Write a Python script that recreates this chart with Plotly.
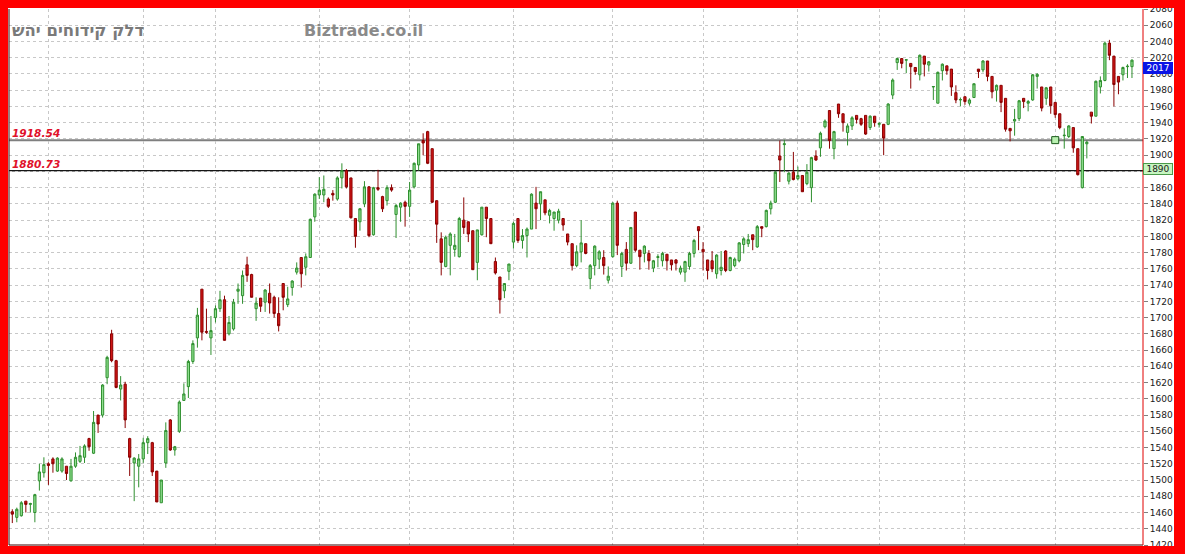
import plotly.graph_objects as go

# ---------------- data ----------------
open_ = [1461, 1454, 1456, 1474, 1470, 1460, 1499, 1509, 1520, 1526,
         1511, 1511, 1517, 1499, 1517, 1523, 1528, 1551, 1533, 1580,
         1580, 1626, 1680, 1647, 1612, 1618, 1551, 1521, 1517, 1526,
         1546, 1546, 1511, 1472, 1521, 1574, 1537, 1560, 1598, 1615,
         1646, 1675, 1735, 1683, 1675, 1700, 1711, 1722, 1680, 1686,
         1732.5, 1727, 1765, 1753, 1711, 1724, 1719, 1730, 1725, 1705,
         1742, 1716, 1737, 1756, 1774, 1762, 1774, 1824, 1851, 1851,
         1846, 1853, 1846, 1872, 1881, 1872, 1822, 1818, 1840, 1861,
         1802, 1860, 1849, 1844, 1860, 1827, 1836, 1842, 1837, 1861,
         1888, 1918, 1929, 1908, 1844, 1797, 1763, 1789, 1784,
         1775, 1820, 1818, 1807, 1768, 1802, 1836, 1822, 1769, 1750,
         1733, 1757, 1793, 1822, 1795, 1801, 1809, 1841, 1840, 1845,
         1826, 1822, 1820, 1822, 1803, 1791, 1764, 1781, 1791, 1748,
         1764, 1772, 1774, 1746, 1775, 1841, 1763, 1784, 1767, 1830,
         1783, 1779, 1779, 1761, 1774, 1770, 1778, 1771, 1771, 1756,
         1756, 1763, 1779, 1812,
         1784, 1771, 1770, 1754, 1758, 1782, 1758, 1764, 1770, 1790,
         1791, 1802, 1787, 1812, 1812, 1834, 1842, 1899, 1913, 1868,
         1879, 1871, 1875, 1865, 1860, 1899, 1909, 1935, 1955, 1908,
         1963, 1951, 1928, 1936, 1949, 1945, 1949, 1934, 1948, 1938,
         1938, 1938,
         1974, 2014,
         2019, 2017, 2013, 2008, 1999, 2022, 2011, 1984, 1964, 2004,
         2010, 2006, 1977, 1968, 1972, 1964, 1971, 2006, 2005, 2016,
         1997, 1980, 1986, 1970, 1933, 1942, 1945, 1970, 1964, 1968,
         1997, 1984, 1970, 1984, 1965, 1951, 1924, 1923, 1934, 1908,
         1860, 1914, 1953, 1948, 1984, 1992, 2038, 2022, 1997, 1999,
         2009, 2009]
high = [1464, 1466, 1474, 1474, 1472, 1483, 1520, 1528, 1522, 1528,
        1528, 1528, 1517, 1526, 1534, 1542, 1544, 1552, 1585, 1580,
        1618, 1653, 1685, 1648, 1628, 1621, 1552, 1528, 1532, 1552,
        1554, 1547, 1511, 1500, 1571, 1575, 1542, 1598, 1619, 1648,
        1672, 1712, 1735, 1711, 1702, 1715, 1733, 1727, 1702, 1723,
        1742, 1758, 1775, 1754, 1725, 1724, 1735, 1742, 1727, 1725,
        1742, 1738, 1746, 1768, 1774, 1779, 1822, 1853, 1873, 1875,
        1848, 1857, 1874, 1890, 1883, 1872, 1822, 1835, 1868, 1862,
        1861, 1882, 1850, 1863, 1864, 1840, 1842, 1844, 1867, 1891,
        1914, 1927, 1930, 1908, 1844, 1805, 1801, 1805, 1803,
        1824, 1848, 1818, 1807, 1808, 1836, 1836, 1822, 1774, 1750,
        1742, 1766, 1818, 1822, 1809, 1811, 1853, 1861, 1855, 1845,
        1834, 1830, 1834, 1822, 1803, 1791, 1789, 1820, 1791, 1766,
        1789, 1783, 1783, 1763, 1842, 1844, 1781, 1793, 1811, 1830,
        1783, 1789, 1783, 1771, 1778, 1781, 1778, 1771, 1772, 1764,
        1770, 1781, 1797, 1812,
        1793, 1771, 1782, 1778, 1782, 1783, 1775, 1774, 1793, 1799,
        1803, 1802, 1814, 1812, 1833, 1844, 1881, 1918, 1919, 1879,
        1904, 1886, 1875, 1889, 1898, 1906, 1929, 1944, 1955, 1930,
        1963, 1951, 1939, 1948, 1949, 1946, 1949, 1949, 1948, 1941,
        1938, 1964,
        1994.5, 2020,
        2019, 2018, 2013, 2008, 2024, 2022, 2016, 1985, 2003, 2013,
        2010, 2006, 1986, 1971, 1972, 1970, 1988, 2006, 2017, 2016,
        1997, 1987, 1986, 1970, 1933, 1957, 1968, 1970, 1968, 2000,
        2001, 1984, 1984, 1984, 1965, 1951, 1933, 1937, 1934, 1908,
        1923, 1918, 1953, 1992, 1997, 2040, 2042, 2022, 1997, 2009,
        2012, 2018]
low = [1447, 1448, 1455, 1460, 1460, 1448, 1487, 1503, 1494, 1509,
       1510, 1509, 1500, 1498, 1515, 1521, 1521, 1536, 1532, 1558,
       1577, 1618, 1645, 1613, 1598, 1564, 1505, 1474, 1491, 1521,
       1532, 1505, 1473, 1472, 1515, 1536, 1530, 1558, 1598, 1601,
       1643, 1663, 1672, 1680, 1654, 1694, 1707, 1672, 1678, 1684,
       1717, 1717, 1744, 1725, 1696, 1707, 1707, 1705, 1700, 1683,
       1709, 1713, 1727, 1753, 1737, 1752, 1774, 1818, 1846, 1842,
       1835, 1844, 1844, 1859, 1859, 1822, 1786, 1807, 1836, 1799,
       1801, 1856, 1830, 1838, 1855, 1798, 1818, 1812, 1824, 1859,
       1881, 1900, 1889, 1841, 1792, 1752, 1762, 1752, 1775,
       1774, 1803, 1793, 1759, 1746, 1801, 1799, 1791, 1753, 1705,
       1724, 1746, 1785, 1792, 1785, 1774, 1809, 1809, 1820, 1826,
       1816, 1807, 1816, 1807, 1789, 1758, 1762, 1768, 1778, 1735,
       1752, 1760, 1753, 1742, 1774, 1777, 1750, 1758, 1766, 1781,
       1759, 1768, 1759, 1756, 1762, 1763, 1758, 1758, 1758, 1753,
       1744, 1759, 1774, 1783,
       1758, 1747, 1756, 1748, 1752, 1756, 1757, 1762, 1768, 1779,
       1787, 1783, 1786, 1799, 1811, 1827, 1841, 1867, 1879, 1864,
       1869, 1869, 1855, 1863, 1842, 1893, 1898, 1933, 1908, 1895,
       1946, 1929, 1912, 1931, 1939, 1936, 1925, 1931, 1935, 1934,
       1900, 1937,
       1969, 2005,
       2007, 2001, 1982, 1999, 1992, 1997, 2003, 1968, 1964, 1992,
       1999, 1973, 1964, 1960, 1962, 1961, 1971, 1995, 2002, 1991,
       1970, 1966, 1953, 1929, 1917, 1924, 1942, 1958, 1954, 1967,
       1982, 1954, 1962, 1951, 1946, 1932, 1908, 1921, 1903, 1875,
       1859, 1896, 1939, 1948, 1976, 1991, 2017, 1960, 1975, 1992,
       1995, 1995]
close = [1458, 1464, 1472, 1470, 1471, 1482, 1510, 1519, 1518, 1520,
         1527, 1526, 1508, 1517, 1528, 1530, 1542, 1541, 1571, 1569,
         1617, 1651, 1647, 1614, 1617, 1574, 1528, 1527, 1526, 1546,
         1551, 1510, 1473, 1500, 1561, 1537, 1541, 1596, 1606, 1646,
         1668, 1703, 1682, 1682, 1684, 1711, 1722, 1672, 1694, 1719,
         1735, 1752, 1752, 1725, 1718, 1714, 1734, 1718, 1705, 1690,
         1725, 1723, 1745, 1761, 1754, 1775, 1821, 1852, 1857, 1858,
         1837, 1851, 1872, 1881, 1861, 1823, 1800, 1834, 1861, 1801,
         1860, 1858, 1834, 1860, 1857, 1838, 1841, 1837, 1857, 1890,
         1914, 1915, 1890, 1842, 1815, 1768, 1799, 1803, 1789,
         1822, 1811, 1803, 1759, 1808, 1836, 1822, 1791, 1755, 1722,
         1742, 1766, 1816, 1795, 1801, 1809, 1852, 1834, 1855, 1829,
         1832, 1830, 1831, 1814, 1793, 1764, 1781, 1792, 1779, 1764,
         1788, 1781, 1764, 1751, 1841, 1789, 1779, 1767, 1811, 1783,
         1775, 1788, 1770, 1770, 1775, 1779, 1770, 1765, 1767, 1761,
         1769, 1779, 1795, 1807,
         1781, 1758, 1760, 1777, 1762, 1758, 1774, 1772, 1792, 1797,
         1796, 1796, 1812, 1810, 1832, 1841, 1879, 1894, 1914, 1878,
         1870, 1875, 1855, 1879, 1897, 1894, 1927, 1942, 1918, 1929,
         1951, 1940, 1936, 1946, 1944, 1938, 1926, 1948, 1940, 1939,
         1921, 1963,
         1992.5, 2019,
         2013, 2017.5, 2009, 2003, 2023, 2012, 2015, 1984.5, 2002, 2012,
         2004, 1984, 1968, 1968.5, 1966, 1968, 1988, 2003, 2016, 1997,
         1978, 1986, 1965, 1932, 1930, 1944, 1967, 1966, 1966, 1999,
         1999.5, 1958, 1983, 1961, 1950, 1934, 1924.5, 1936, 1909, 1876,
         1923, 1916, 1948, 1991, 1992, 2038, 2023, 1987, 1990, 2008,
         2009.5, 2017]

day = list(range(len(close)))
month_starts = [8, 29, 45, 68, 88, 111, 133, 153, 174, 192, 211, 231]
levels = [1918.54, 1880.73]
level_colors = ["#7f7f7f", "#151515"]
level_widths = [2, 1.5]
level_mark_day = 231
last_price = 2017
side_marker_value = 1890
title_text = "דלק קידוחים יהש"
watermark = "Biztrade.co.il"
y_ticks = list(range(1420, 2081, 20))
hidden_tick = 1880          # covered by the side marker box in the original
y_ticktext = ["" if v == hidden_tick else str(v) for v in y_ticks]

# ---------------- geometry ----------------
W, H = 1185, 554
ML, MR, MT, MB = 9, 42, 9, 9
PW, PH = W - ML - MR, H - MT - MB


def px_x(px):
    return (px - ML) / PW


def px_y(py):
    return (H - MB - py) / PH


fig = go.Figure()
fig.add_trace(go.Candlestick(
    x=day, open=open_, high=high, low=low, close=close,
    increasing=dict(line=dict(color="#2f8f2f", width=1), fillcolor="#90e090"),
    decreasing=dict(line=dict(color="#8a0000", width=1), fillcolor="#d01515"),
    whiskerwidth=0, showlegend=False, hoverinfo="skip",
))

# small square marker on the upper level line
fig.add_trace(go.Scatter(
    x=[level_mark_day], y=[levels[0]], mode="markers",
    marker=dict(symbol="square", size=7, color="#b8f0b0",
                line=dict(color="#1a5a1a", width=1)),
    showlegend=False, hoverinfo="skip",
))

shapes = []
for lv, col, lw in zip(levels, level_colors, level_widths):
    shapes.append(dict(type="line", xref="paper", yref="y", x0=0, x1=1,
                       y0=lv, y1=lv, line=dict(color=col, width=lw),
                       layer="between"))
shapes.append(dict(type="line", xref="paper", yref="paper", x0=0, x1=0,
                   y0=0, y1=1, line=dict(color="#3a0000", width=1), layer="above"))
shapes.append(dict(type="line", xref="paper", yref="paper", x0=0, x1=1,
                   y0=0, y1=0, line=dict(color="#3a0000", width=1), layer="above"))
shapes.append(dict(type="line", xref="paper", yref="paper", x0=1, x1=1,
                   y0=0, y1=1, line=dict(color="#e00000", width=1), layer="above"))
red = "#ff0000"
shapes += [
    dict(type="rect", xref="paper", yref="paper", x0=px_x(-5), x1=px_x(8),
         y0=px_y(H + 5), y1=px_y(-5), fillcolor=red, line=dict(width=0), layer="above"),
    dict(type="rect", xref="paper", yref="paper", x0=px_x(-5), x1=px_x(W + 5),
         y0=px_y(8), y1=px_y(-5), fillcolor=red, line=dict(width=0), layer="above"),
    dict(type="rect", xref="paper", yref="paper", x0=px_x(-5), x1=px_x(W + 5),
         y0=px_y(H + 5), y1=px_y(546), fillcolor=red, line=dict(width=0), layer="above"),
    dict(type="rect", xref="paper", yref="paper", x0=px_x(1174), x1=px_x(W + 5),
         y0=px_y(H + 5), y1=px_y(-5), fillcolor=red, line=dict(width=0), layer="above"),
]

annotations = []
for lv in levels:
    annotations.append(dict(
        xref="paper", yref="y", x=px_x(10), y=lv, xanchor="left", yanchor="bottom",
        text="<b><i>%.2f</i></b>" % lv, showarrow=False, yshift=-1,
        font=dict(family="DejaVu Sans", size=10.6, color="#e0102a"),
    ))
annotations.append(dict(
    xref="paper", yref="paper", x=px_x(10), y=px_y(31), xanchor="left", yanchor="middle",
    text="<b>%s</b>" % title_text, showarrow=False,
    font=dict(family="DejaVu Sans", size=16.5, color="#7a7a7a"),
))
annotations.append(dict(
    xref="paper", yref="paper", x=px_x(302), y=px_y(31), xanchor="left", yanchor="middle",
    text="<b>%s</b>" % watermark, showarrow=False,
    font=dict(family="DejaVu Sans", size=16, color="#8a8a8a"),
))
annotations.append(dict(
    xref="paper", yref="y", x=1, y=last_price, xanchor="left", yanchor="top",
    text=str(last_price), showarrow=False, width=28, height=10, borderpad=0,
    yshift=-2, bgcolor="#0a14e6", bordercolor="#0a14e6",
    font=dict(family="DejaVu Sans", size=9, color="#ffffff"),
))
annotations.append(dict(
    xref="paper", yref="y", x=1, y=side_marker_value, xanchor="left", yanchor="top",
    text=str(side_marker_value), showarrow=False, width=28, height=10, borderpad=0,
    bgcolor="#c6f5c0", bordercolor="#4a9a4a",
    font=dict(family="DejaVu Sans", size=9, color="#202020"),
))

fig.update_layout(
    width=W, height=H, autosize=False,
    margin=dict(l=ML, r=MR, t=MT, b=MB, pad=0, autoexpand=False),
    paper_bgcolor="#ffffff", plot_bgcolor="#ffffff",
    showlegend=False,
    shapes=shapes, annotations=annotations,
    xaxis=dict(range=[-0.73, len(close) - 1 + 2.44], tickmode="array",
               tickvals=month_starts, showticklabels=False, ticks="",
               showgrid=True, gridcolor="#c8c8c8", griddash="dot", gridwidth=1,
               zeroline=False, rangeslider=dict(visible=False), fixedrange=True,
               automargin=False),
    yaxis=dict(range=[y_ticks[0], y_ticks[-1]], side="right", tickmode="array",
               tickvals=y_ticks, ticktext=y_ticktext, ticks="outside", ticklen=4,
               tickcolor="#808080", showgrid=True, gridcolor="#c8c8c8",
               griddash="dot", gridwidth=1, zeroline=False,
               tickfont=dict(family="DejaVu Sans", size=9, color="#202020"),
               fixedrange=True, automargin=False),
    boxgap=0.3,
)

fig.write_html("out.html", config={"displayModeBar": False},
               post_script="document.body.style.margin='0';document.body.style.overflow='hidden';")
